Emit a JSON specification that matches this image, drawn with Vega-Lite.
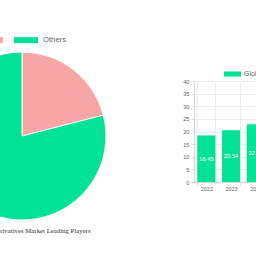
{
  "$schema": "https://vega.github.io/schema/vega-lite/v6.json",
  "autosize": {"type": "none"},
  "padding": {"left": 0, "top": 81, "right": 256, "bottom": 175},
  "spacing": 150,
  "bounds": "flush",
  "config": {"view": {"stroke": null}, "font": "Liberation Sans"},
  "resolve": {"scale": {"color": "independent"}},
  "hconcat": [
    {
      "width": 44,
      "height": 110,
      "title": {"text": "Global Credit Derivatives Market Leading Players", "orient": "bottom", "font": "Liberation Serif", "fontSize": 6.8, "fontWeight": "normal", "color": "#333333", "offset": 6, "anchor": "middle"},
      "data": {"values": [{"player": "Company A", "share": 21}, {"player": "Others", "share": 79}]},
      "mark": {"type": "arc", "radius": 84, "stroke": "#ffffff", "strokeWidth": 1},
      "encoding": {
        "theta": {"field": "share", "type": "quantitative", "stack": true},
        "order": {"field": "share", "sort": "ascending"},
        "color": {
          "field": "player", "type": "nominal",
          "scale": {"domain": ["Company A", "Others"], "range": ["#f8a5a5", "#00e396"]},
          "legend": {"orient": "none", "legendX": -21, "legendY": -53, "direction": "horizontal", "title": null, "symbolType": "M-1,-0.25H1V0.25H-1Z", "symbolSize": 576, "symbolStrokeWidth": 0, "symbolOpacity": 1, "labelFontSize": 7.7, "labelColor": "#666666", "labelOffset": 5, "columnPadding": 6, "padding": 0, "labelExpr": "datum.label == 'Others' ? 'Others' : ''"}
        }
      }
    },
    {
      "width": 74.1,
      "height": 101,
      "data": {"values": [{"year": "2022", "value": 18.45}, {"year": "2023", "value": 20.54}, {"year": "2024", "value": 22.87}]},
      "encoding": {
        "x": {"field": "year", "type": "ordinal", "scale": {"paddingInner": 0.27, "paddingOuter": 0.135},
          "axis": {"title": null, "labelAngle": 0, "tickBand": "extent", "grid": true, "gridColor": "#ececec", "domainColor": "#d6d6d6", "tickColor": "#e0e0e0", "tickSize": 3, "labelPadding": 1.5, "labelFontSize": 5.5, "labelColor": "#666666"}}
      },
      "layer": [
        {
          "mark": {"type": "bar"},
          "encoding": {
            "y": {"field": "value", "type": "quantitative", "scale": {"domain": [0, 40]},
              "axis": {"title": null, "values": [0, 5, 10, 15, 20, 25, 30, 35, 40], "gridColor": "#ececec", "domainColor": "#d6d6d6", "tickColor": "#e0e0e0", "tickSize": 3, "labelPadding": 2, "labelFontSize": 5.7, "labelColor": "#666666"}},
            "color": {"datum": "Global Market Size", "type": "nominal", "scale": {"range": ["#00e396"]},
              "legend": {"orient": "none", "legendX": 30, "legendY": -15.5, "title": null, "symbolType": "M-1,-0.3H1V0.3H-1Z", "symbolSize": 289, "symbolStrokeWidth": 0, "symbolOpacity": 1, "labelFontSize": 7, "labelColor": "#666666", "labelOffset": 3, "padding": 0}}
          }
        },
        {
          "mark": {"type": "text", "color": "#ffffff", "fontSize": 5.8, "baseline": "middle", "align": "center"},
          "encoding": {
            "y": {"field": "value", "type": "quantitative", "scale": {"domain": [0, 80]}, "axis": null},
            "text": {"field": "value", "type": "quantitative", "format": ".2f"}
          }
        }
      ],
      "resolve": {"scale": {"y": "independent"}}
    }
  ]
}
